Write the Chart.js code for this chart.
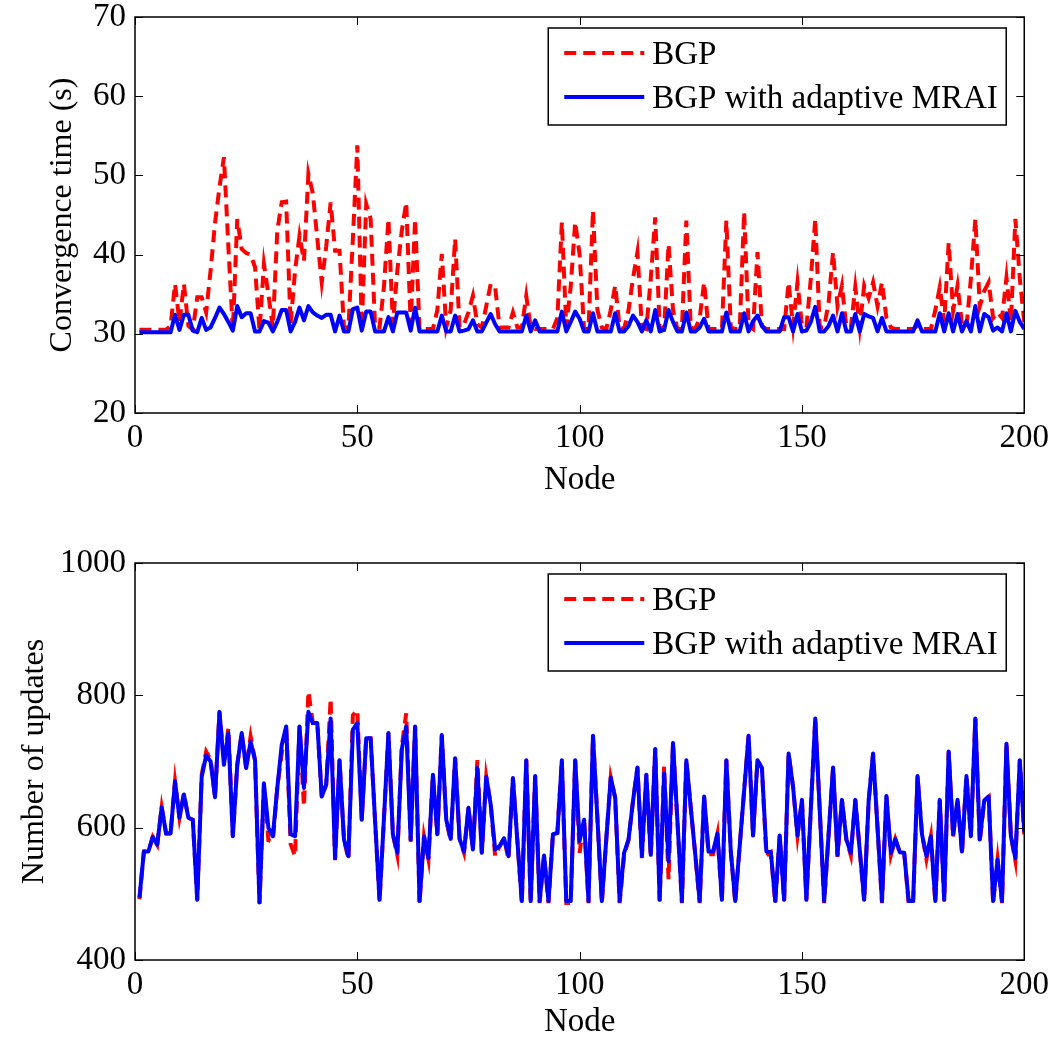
<!DOCTYPE html>
<html>
<head>
<meta charset="utf-8">
<script src="https://cdn.jsdelivr.net/npm/chart.js@4.4.0/dist/chart.umd.min.js"></script>
<style>
body { margin: 0; background: #fff; }
#wrap { position: relative; width: 1058px; height: 1042px; }
#topChart { position: absolute; left: 0; top: 0; }
#bottomChart { position: absolute; left: 0; top: 500px; }
</style>
</head>
<body>
<div id="wrap">
<canvas id="topChart" width="1058" height="500"></canvas>
<canvas id="bottomChart" width="1058" height="542"></canvas>
</div>
<script>
const seriesNames = ['BGP', 'BGP with adaptive MRAI'];
const xTicks = [0, 50, 100, 150, 200];
const convTicks = [20, 30, 40, 50, 60, 70];
const updTicks = [400, 600, 800, 1000];

// node ids 1..200
const nodes = Array.from({ length: 200 }, (_, i) => i + 1);

// convergence time (s)
const convBgp = [
  30.5,30.5,30.5,30.5,30.5,30.5,30.5,31,36.3,31.5,
  36.3,31,30.5,34.6,34.6,32.7,38,44,48.5,52.3,
  41,30.4,44.5,40.7,40.2,40,38.4,30.4,38.8,35,
  30.8,43,46.6,46.7,31.2,38,42.4,39.2,50.2,47.7,
  42,36.5,41,46.6,40.5,40.5,30.8,30.8,42,53.8,
  30.8,46.4,44.5,30.8,30.8,36,44.5,31.2,38,43,
  46.6,31.2,44.5,30.5,30.6,30.6,30.6,33,40.1,30.8,
  33,42,30.8,31.2,32.7,34.8,31.2,30.8,33.5,36.3,
  35.9,30.8,30.8,30.8,32.7,30.8,30.8,34.8,30.8,30.6,
  30.6,30.6,30.6,30.6,32,44.1,30.8,36,44.1,40,
  30.6,30.6,45.6,33,30.8,30.6,33,36.1,30.8,30.6,
  33,37,40.3,30.8,30.6,37,44.7,30.8,30.6,41.3,
  33,30.6,30.6,44.3,30.8,30.6,32,36.5,30.6,30.6,
  30.6,30.6,44.3,30.8,30.6,30.6,45.4,31,30.6,40.3,
  31,30.6,30.6,30.6,30.6,30.6,36.5,31,36.5,31,
  30.8,37,44.5,30.8,30.8,34,40.3,33.5,36.1,30.8,
  30.8,35.9,30.8,36.1,34.5,36.5,33.5,36.5,32,30.8,
  30.6,30.6,30.6,30.6,30.6,31,30.6,30.6,30.6,33,
  35.9,31.5,41.5,32.9,36.1,31.2,30.8,37,44.5,33.5,
  35.4,36.5,32,32.7,32,37.1,31.5,44.5,37,31.5
];
const convAdaptive = [
  30.2,30.2,30.2,30.2,30.2,30.2,30.2,30.2,32.4,30.5,
  32.4,32.4,30.4,30.2,32,30.5,30.8,32,33.3,32.5,
  31.5,30.4,33.5,32.1,32.6,32.6,30.3,30.3,31.6,31.4,
  30.3,31.5,33,33,30.3,31.5,33.3,31.7,33.5,32.7,
  32.3,32,32.4,32.4,30.3,32.3,30.3,30.3,33.1,33.3,
  30.4,32.8,32.8,30.3,30.3,30.3,32.1,30.3,32.7,32.7,
  32.7,30.4,33.3,30.3,30.3,30.3,30.3,30.3,32.3,30.3,
  30.3,32.3,30.3,30.4,30.6,31.7,30.3,30.3,31.4,32.5,
  31.2,30.3,30.3,30.3,30.3,30.3,30.3,32.3,30.3,31.7,
  30.3,30.3,30.3,30.3,30.3,32.8,30.3,31.5,32.8,31.9,
  30.3,30.3,32.6,30.3,30.3,30.3,30.3,32.6,30.3,30.3,
  31,32.3,31.5,30.3,31.7,30.3,33,30.3,30.5,33,
  31.5,30.3,30.3,32.7,30.3,30.3,30.8,31.9,30.3,30.3,
  30.3,30.3,32.7,30.3,30.3,30.3,32.6,30.3,31.6,32.3,
  31,30.3,30.3,30.3,30.3,32.1,32.1,30.3,32.5,30.3,
  30.4,31.5,33.4,30.3,30.3,31,32.3,30.3,32.6,30.3,
  30.3,32.5,30.3,32.5,32.2,32,30.3,32,30.3,30.3,
  30.3,30.3,30.3,30.3,30.3,31.7,30.3,30.3,30.3,30.3,
  32.6,30.3,32.6,30.3,32.5,30.3,31.6,30.3,33.5,30.3,
  32.5,32.1,30.4,30.8,30.3,32.6,30.3,32.9,31.5,30.6
];

// number of updates
const updBgp = [
  492,564,564,586,574,631,591,591,670,615,
  652,615,612,491,680,715,703,646,775,700,
  750,587,695,743,690,738,702,485,667,581,
  579,660,712,753,575,557,753,632,806,758,
  758,647,665,795,551,702,582,552,770,778,
  612,735,735,610,489,615,743,590,558,723,
  773,579,753,486,587,552,680,590,740,612,
  580,705,583,562,630,567,702,562,677,635,
  557,572,584,552,675,580,486,702,486,678,
  486,558,486,590,592,702,486,486,702,562,
  612,486,739,614,486,583,676,645,486,558,
  582,640,691,554,680,556,719,489,693,522,
  728,610,486,702,630,560,486,647,560,560,
  591,489,702,564,486,572,656,739,588,702,
  690,558,563,486,588,489,712,662,588,642,
  491,628,765,627,486,590,691,556,642,582,
  558,642,566,489,640,712,600,486,648,558,
  583,563,562,486,484,678,590,552,587,486,
  642,489,715,586,642,561,678,587,765,578,
  641,647,486,552,486,727,587,550,702,590
];
const updAdaptive = [
  494,564,564,586,574,631,591,591,670,615,
  650,615,612,491,677,709,700,646,775,695,
  743,587,695,743,690,730,702,487,667,600,
  587,660,725,753,590,587,753,660,775,758,
  758,647,665,765,554,702,582,557,748,758,
  612,735,735,610,491,615,743,590,562,718,
  753,582,753,489,587,554,680,590,740,612,
  583,705,583,564,630,567,690,562,677,635,
  567,572,584,557,675,580,489,702,489,678,
  489,558,489,590,592,702,489,489,702,580,
  612,489,739,614,489,583,676,645,489,562,
  582,640,691,557,680,559,719,491,682,549,
  728,610,489,702,630,560,489,647,564,564,
  591,491,702,564,489,572,656,739,588,702,
  690,564,563,489,588,491,712,662,588,642,
  491,628,765,627,489,590,691,559,642,582,
  562,642,566,491,640,712,600,489,648,562,
  583,563,562,489,489,678,590,557,587,489,
  642,491,715,590,642,564,678,587,765,582,
  641,647,489,552,489,727,587,554,702,594
];

const serif = "'Liberation Serif', 'Times New Roman', serif";

function toPoints(values) {
  return values.map((v, i) => ({ x: nodes[i], y: v }));
}

// full box with inward ticks, like matlab axes
const matlabBox = {
  id: 'matlabBox',
  afterDatasetsDraw(chart) {
    const { ctx, chartArea: a, scales: { x, y } } = chart;
    ctx.save();
    ctx.strokeStyle = '#000';
    ctx.lineWidth = 1.5;
    ctx.strokeRect(a.left, a.top, a.width, a.height);
    ctx.beginPath();
    x.ticks.forEach(t => {
      const px = Math.round(x.getPixelForValue(t.value)) + 0.5;
      ctx.moveTo(px, a.bottom); ctx.lineTo(px, a.bottom - 8);
      ctx.moveTo(px, a.top); ctx.lineTo(px, a.top + 8);
    });
    y.ticks.forEach(t => {
      const py = Math.round(y.getPixelForValue(t.value)) + 0.5;
      ctx.moveTo(a.left, py); ctx.lineTo(a.left + 8, py);
      ctx.moveTo(a.right, py); ctx.lineTo(a.right - 8, py);
    });
    ctx.lineWidth = 1;
    ctx.stroke();
    ctx.restore();
  }
};

const boxLegend = {
  id: 'boxLegend',
  afterDraw(chart, args, opts) {
    const { ctx, chartArea: a } = chart;
    const left = a.right - opts.right - opts.width;
    const top = a.top + opts.top;
    ctx.save();
    ctx.fillStyle = '#fff';
    ctx.fillRect(left, top, opts.width, opts.height);
    ctx.strokeStyle = '#000';
    ctx.lineWidth = 1.5;
    ctx.strokeRect(left, top, opts.width, opts.height);
    ctx.font = '33px ' + serif;
    ctx.textBaseline = 'middle';
    chart.data.datasets.forEach((ds, i) => {
      const yy = top + opts.rowTop + i * opts.rowGap;
      ctx.strokeStyle = ds.borderColor;
      ctx.lineWidth = ds.borderWidth;
      ctx.setLineDash(ds.borderDash || []);
      ctx.beginPath();
      ctx.moveTo(left + 16, yy);
      ctx.lineTo(left + 96, yy);
      ctx.stroke();
      ctx.setLineDash([]);
      ctx.fillStyle = '#000';
      ctx.fillText(ds.label, left + 104, yy + 2);
    });
    ctx.restore();
  }
};

function makeChart(id, red, blue, yTicks, yTitle, dims) {
  const ctx = document.getElementById(id);
  return new Chart(ctx, {
    type: 'line',
    data: {
      datasets: [{
        label: seriesNames[0],
        data: toPoints(red),
        borderColor: '#ff0000',
        borderWidth: 4,
        borderDash: [12, 7],
        pointRadius: 0,
        tension: 0,
        order: 2,
      }, {
        label: seriesNames[1],
        data: toPoints(blue),
        borderColor: '#0000ff',
        borderWidth: 4,
        borderJoinStyle: 'round',
        pointRadius: 0,
        tension: 0,
        order: 1,
      }]
    },
    options: {
      responsive: false,
      animation: false,
      layout: { padding: { top: dims.top, right: 31, left: 0, bottom: 0 } },
      scales: {
        x: {
          type: 'linear',
          min: 0,
          max: 200,
          afterBuildTicks: s => { s.ticks = xTicks.map(v => ({ value: v })); },
          afterFit: s => { s.height = dims.xHeight; },
          grid: { display: false, drawTicks: false },
          border: { display: false },
          ticks: { color: '#000', padding: 9, callback: v => String(v),
                   font: { family: serif, size: 33, lineHeight: 1 } },
          title: { display: true, text: 'Node', color: '#000', padding: { top: 0, bottom: 0 },
                   font: { family: serif, size: 33 } },
        },
        y: {
          min: yTicks[0],
          max: yTicks[yTicks.length - 1],
          afterBuildTicks: s => { s.ticks = yTicks.map(v => ({ value: v })); },
          afterFit: s => { s.width = 135; },
          grid: { display: false, drawTicks: false },
          border: { display: false },
          ticks: { color: '#000', padding: 9, callback: v => String(v),
                   font: { family: serif, size: 33, lineHeight: 0.3 } },
          title: { display: true, text: yTitle, color: '#000', padding: { top: dims.yTitlePad, bottom: 0 },
                   font: { family: serif, size: 32 } },
        }
      },
      plugins: {
        legend: { display: false },
        tooltip: { enabled: false },
        boxLegend: { right: 18, top: 11, width: 458, height: 97, rowTop: 25, rowGap: 44 },
      }
    },
    plugins: [matlabBox, boxLegend]
  });
}

makeChart('topChart', convBgp, convAdaptive, convTicks, 'Convergence time (s)',
  { top: 17, xHeight: 87, yTitlePad: 43 });
makeChart('bottomChart', updBgp, updAdaptive, updTicks, 'Number of updates',
  { top: 63, xHeight: 82, yTitlePad: 15 });
</script>
</body>
</html>
